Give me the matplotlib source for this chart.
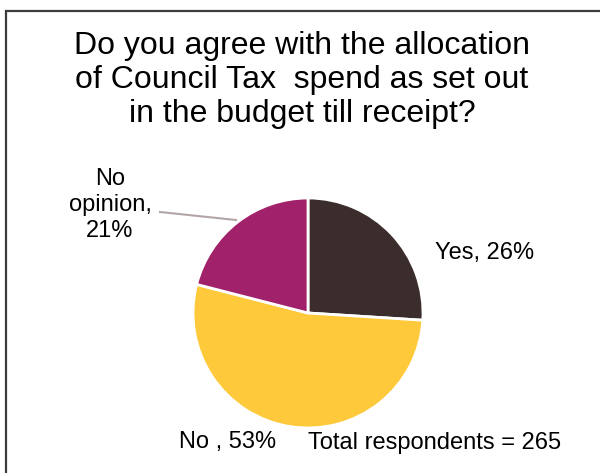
import matplotlib.pyplot as plt

plt.rcParams['font.family'] = ['Liberation Sans', 'DejaVu Sans']

labels = ['Yes', 'No', 'No opinion']
shares = [26, 53, 21]
colors = ['#3a2d2b', '#fec93a', '#a1216b']
total_respondents = 265

W, H = 600, 473
fig = plt.figure(figsize=(W / 100, H / 100), dpi=100)
ax = fig.add_axes([0, 0, 1, 1])

# pie centred in pixel space, y measured upwards
ax.pie(shares, colors=colors, startangle=90, counterclock=False,
       center=(308, H - 313), radius=115,
       wedgeprops=dict(edgecolor='white', linewidth=2))
ax.set_xlim(0, W)
ax.set_ylim(0, H)
ax.set_aspect('equal')
ax.axis('off')

# outer frame
ax.plot([6, 6, W + 5], [-5, H - 11, H - 11], color='#3c3c3c', lw=1.6,
        solid_joinstyle='miter')

ax.text(302, H - 80,
        'Do you agree with the allocation\nof Council Tax  spend as set out\nin the budget till receipt?',
        ha='center', va='center', fontsize=23, linespacing=1.17)

ax.text(485, H - 253, f'{labels[0]}, {shares[0]}%', ha='center', va='center', fontsize=17)
ax.text(228, H - 442, f'{labels[1]} , {shares[1]}%', ha='center', va='center', fontsize=17)
ax.text(110, H - 205, f'No\nopinion,\n{shares[2]}%', ha='center', va='center',
        fontsize=17, linespacing=1.25)
ax.plot([160, 236], [H - 212, H - 220], color='#b3a5a5', lw=1.5)

ax.text(435, H - 443, f'Total respondents = {total_respondents}', ha='center', va='center',
        fontsize=17)

fig.savefig('out.png', dpi=100)
